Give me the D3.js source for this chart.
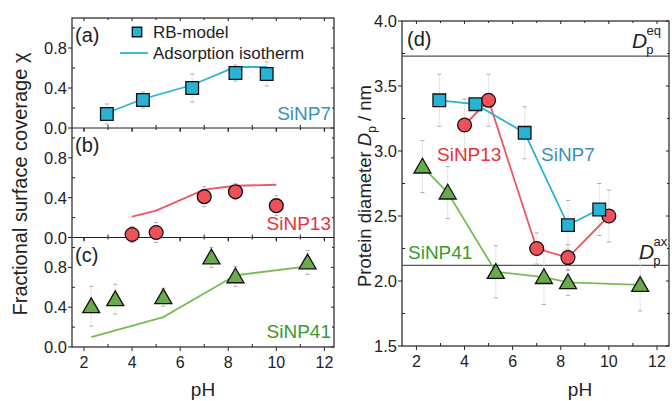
<!DOCTYPE html>
<html>
<head>
<meta charset="utf-8">
<script src="https://cdn.jsdelivr.net/npm/d3@7"></script>
<style>
  body { margin: 0; background: #fff; }
  text { font-family: "Liberation Sans", Arial, sans-serif; }
</style>
</head>
<body>
<svg id="plot" width="672" height="401"></svg>
<script>
// ---- data ----
var ph7 = [2.95, 4.45, 6.5, 8.3, 9.6];
var chi7 = [0.14, 0.28, 0.40, 0.55, 0.54];
var chi7Err = [0.1, 0.08, 0.14, 0.08, 0.12];
var iso7 = [0.15, 0.29, 0.43, 0.61, 0.61];

var ph13 = [4.0, 5.0, 7.0, 8.3, 10.0];
var chi13 = [0.03, 0.05, 0.41, 0.46, 0.32];
var chi13Err = [0.08, 0.1, 0.1, 0.08, 0.1];
var iso13 = [0.21, 0.27, 0.48, 0.52, 0.53];

var ph41 = [2.3, 3.3, 5.3, 7.3, 8.3, 11.3];
var chi41 = [0.41, 0.48, 0.50, 0.90, 0.71, 0.85];
var chi41Err = [0.2, 0.15, 0.09, 0.1, 0.1, 0.12];
var isoPh41 = [2.3, 5.3, 8.3, 11.3];
var iso41 = [0.10, 0.30, 0.72, 0.81];

var dp7 = [3.39, 3.36, 3.14, 2.43, 2.55];
var dp7Err = [0.2, 0.04, 0.2, 0.19, 0.2];
var dp13 = [3.20, 3.39, 2.25, 2.18, 2.50];
var dp13Err = [0.2, 0.2, 0.12, 0.1, 0.2];
var ph41d = [2.25, 3.3, 5.3, 7.3, 8.3, 11.3];
var dp41 = [2.88, 2.68, 2.07, 2.03, 1.99, 1.97];
var dp41Err = [0.2, 0.2, 0.2, 0.21, 0.1, 0.2];

var dpEq = 3.73, dpAx = 2.12;
var phTicks = [2, 4, 6, 8, 10, 12];

var c7 = "#27b2d6", c13 = "#f0505a", c41 = "#6aaa4a";
var line7 = "#2bb3d3", line13 = "#ef5662", line41 = "#79bb55";
var t7 = "#3a8fb8", t13 = "#e8323c", t41 = "#3a9a2a";

var svg = d3.select("#plot");

// ---- left: three stacked panels ----
var xL = d3.scaleLinear().domain([1.5, 12.4]).range([72, 334]);
var panels = [
  {top: 18, bot: 128, label: "(a)", name: "SiNP7", tcol: t7, nameY: 120},
  {top: 128, bot: 237.5, label: "(b)", name: "SiNP13", tcol: t13, nameY: 230},
  {top: 237.5, bot: 347, label: "(c)", name: "SiNP41", tcol: t41, nameY: 338}
];
panels.forEach(function(p) {
  p.y = d3.scaleLinear().domain([0, 1.1]).range([p.bot, p.top]);
});

function drawTicksY(y, x0, x1, major, minor) {
  major.forEach(function(v) {
    svg.append("line").attr("x1", x0 - 4).attr("x2", x0).attr("y1", y(v)).attr("y2", y(v)).attr("stroke", "#222");
    svg.append("line").attr("x1", x1 - 3).attr("x2", x1).attr("y1", y(v)).attr("y2", y(v)).attr("stroke", "#222");
  });
  minor.forEach(function(v) {
    svg.append("line").attr("x1", x0).attr("x2", x0 + 3).attr("y1", y(v)).attr("y2", y(v)).attr("stroke", "#222");
    svg.append("line").attr("x1", x1 - 2).attr("x2", x1).attr("y1", y(v)).attr("y2", y(v)).attr("stroke", "#222");
  });
}
function drawTicksX(x, yb, yt, labels, ticksTop) {
  phTicks.forEach(function(v) {
    svg.append("line").attr("x1", x(v)).attr("x2", x(v)).attr("y1", yb).attr("y2", yb + 4).attr("stroke", "#222");
    if (ticksTop) svg.append("line").attr("x1", x(v)).attr("x2", x(v)).attr("y1", yt).attr("y2", yt + 3).attr("stroke", "#222");
    if (labels) svg.append("text").attr("x", x(v)).attr("y", yb + 21).attr("text-anchor", "middle")
      .attr("font-size", 16).attr("fill", "#222").text(v);
  });
  [3, 5, 7, 9, 11].forEach(function(v) {
    svg.append("line").attr("x1", x(v)).attr("x2", x(v)).attr("y1", yb - 3).attr("y2", yb).attr("stroke", "#222");
    if (ticksTop) svg.append("line").attr("x1", x(v)).attr("x2", x(v)).attr("y1", yt).attr("y2", yt + 2).attr("stroke", "#222");
  });
}

panels.forEach(function(p, i) {
  drawTicksY(p.y, 72, 334, [0, 0.4, 0.8], [0.2, 0.6, 1.0]);
  [0, 0.4, 0.8].forEach(function(v) {
    svg.append("text").attr("x", 67).attr("y", p.y(v) + 6).attr("text-anchor", "end")
      .attr("font-size", 16.5).attr("fill", "#222").text(v.toFixed(1));
  });
  drawTicksX(xL, p.bot, p.top, i == 2, true);
  svg.append("text").attr("x", 75).attr("y", p.top + 24).attr("font-size", 20).attr("fill", "#222").text(p.label);
  svg.append("text").attr("x", 331).attr("y", p.nameY).attr("text-anchor", "end")
    .attr("font-size", 19).attr("fill", p.tcol).text(p.name);
});
svg.append("rect").attr("x", 72).attr("y", 18).attr("width", 262).attr("height", 329)
  .attr("fill", "none").attr("stroke", "#222").attr("stroke-width", 1.2);
svg.append("line").attr("x1", 72).attr("x2", 334).attr("y1", 128).attr("y2", 128).attr("stroke", "#222");
svg.append("line").attr("x1", 72).attr("x2", 334).attr("y1", 237.5).attr("y2", 237.5).attr("stroke", "#222");

function errBars(x, y, xs, ys, es) {
  xs.forEach(function(v, i) {
    var lo = y(ys[i] - es[i]), hi = y(ys[i] + es[i]);
    svg.append("line").attr("x1", x(v)).attr("x2", x(v)).attr("y1", lo).attr("y2", hi)
      .attr("stroke", "#dedede").attr("stroke-width", 0.8);
    [lo, hi].forEach(function(yy) {
      svg.append("line").attr("x1", x(v) - 2).attr("x2", x(v) + 2).attr("y1", yy).attr("y2", yy)
        .attr("stroke", "#aaa").attr("stroke-width", 1);
    });
  });
}
function polyline(x, y, xs, ys, col) {
  svg.append("path").datum(xs.map(function(v, i) { return [v, ys[i]]; }))
    .attr("d", d3.line().x(function(d) { return x(d[0]); }).y(function(d) { return y(d[1]); }))
    .attr("fill", "none").attr("stroke", col).attr("stroke-width", 1.8);
}
function markers(x, y, xs, ys, shape, col) {
  var sym = shape == "square" ? d3.symbolSquare : shape == "circle" ? d3.symbolCircle : d3.symbolTriangle;
  var size = shape == "square" ? 160 : shape == "circle" ? 150 : 125;
  svg.selectAll(null).data(xs).enter().append("path")
    .attr("d", d3.symbol().type(sym).size(size))
    .attr("transform", function(d, i) { return "translate(" + x(d) + "," + (y(ys[i]) + (shape == "tri" ? 1.5 : 0)) + ")"; })
    .attr("fill", col).attr("stroke", "#111").attr("stroke-width", 1.3);
}

var ya = panels[0].y, yb = panels[1].y, yc = panels[2].y;
errBars(xL, ya, ph7, chi7, chi7Err);
polyline(xL, ya, ph7, iso7, line7);
markers(xL, ya, ph7, chi7, "square", c7);
errBars(xL, yb, ph13, chi13, chi13Err);
polyline(xL, yb, ph13, iso13, line13);
markers(xL, yb, ph13, chi13, "circle", c13);
errBars(xL, yc, ph41, chi41, chi41Err);
polyline(xL, yc, isoPh41, iso41, line41);
markers(xL, yc, ph41, chi41, "tri", c41);

// legend
svg.append("path").attr("d", d3.symbol().type(d3.symbolSquare).size(90)).attr("transform", "translate(137,32)")
  .attr("fill", c7).attr("stroke", "#111").attr("stroke-width", 1.3);
svg.append("text").attr("x", 153).attr("y", 38).attr("font-size", 17).attr("fill", "#222").text("RB-model");
svg.append("line").attr("x1", 120).attr("x2", 148).attr("y1", 53).attr("y2", 53).attr("stroke", line7).attr("stroke-width", 1.8);
svg.append("text").attr("x", 153).attr("y", 59).attr("font-size", 17).attr("fill", "#222").text("Adsorption isotherm");

svg.append("text").attr("transform", "translate(27,184) rotate(-90)").attr("text-anchor", "middle")
  .attr("font-size", 20).attr("fill", "#222").text("Fractional surface coverage χ");
svg.append("text").attr("x", 203).attr("y", 396).attr("text-anchor", "middle")
  .attr("font-size", 19).attr("fill", "#222").text("pH");

// ---- right: panel (d) ----
var xR = d3.scaleLinear().domain([1.4, 12.5]).range([402, 669]);
var yR = d3.scaleLinear().domain([1.5, 4.0]).range([346, 21]);
drawTicksY(yR, 402, 669, [1.5, 2.0, 2.5, 3.0, 3.5, 4.0], [1.75, 2.25, 2.75, 3.25, 3.75]);
[1.5, 2.0, 2.5, 3.0, 3.5, 4.0].forEach(function(v) {
  svg.append("text").attr("x", 397).attr("y", yR(v) + 6).attr("text-anchor", "end")
    .attr("font-size", 16.5).attr("fill", "#222").text(v.toFixed(1));
});
drawTicksX(xR, 346, 21, true, true);
svg.append("rect").attr("x", 402).attr("y", 21).attr("width", 267).attr("height", 325)
  .attr("fill", "none").attr("stroke", "#222").attr("stroke-width", 1.2);
[dpEq, dpAx].forEach(function(v) {
  svg.append("line").attr("x1", 402).attr("x2", 669).attr("y1", yR(v)).attr("y2", yR(v))
    .attr("stroke", "#555").attr("stroke-width", 1.3);
});

errBars(xR, yR, ph7, dp7, dp7Err);
errBars(xR, yR, ph13, dp13, dp13Err);
errBars(xR, yR, ph41d, dp41, dp41Err);
polyline(xR, yR, ph41d, dp41, line41);
polyline(xR, yR, ph13, dp13, line13);
polyline(xR, yR, ph7, dp7, line7);
markers(xR, yR, ph41d, dp41, "tri", c41);
markers(xR, yR, ph13, dp13, "circle", c13);
markers(xR, yR, ph7, dp7, "square", c7);

svg.append("text").attr("x", 407).attr("y", 46).attr("font-size", 20).attr("fill", "#222").text("(d)");
svg.append("text").attr("x", 437).attr("y", 161).attr("font-size", 19).attr("fill", t13).text("SiNP13");
svg.append("text").attr("x", 541).attr("y", 161).attr("font-size", 19).attr("fill", t7).text("SiNP7");
svg.append("text").attr("x", 408).attr("y", 259).attr("font-size", 19).attr("fill", t41).text("SiNP41");

function dLabel(x, y, sup) {
  var t = svg.append("text").attr("x", x).attr("y", y).attr("font-size", 21).attr("fill", "#222");
  t.append("tspan").attr("font-style", "italic").text("D");
  t.append("tspan").attr("font-size", 13).attr("dx", -1).attr("dy", 6).text("p");
  t.append("tspan").attr("font-size", 13).attr("dx", -7).attr("dy", -19).text(sup);
}
dLabel(632, 48, "eq");
dLabel(639, 259, "ax");

var yt = svg.append("text").attr("transform", "translate(371,186) rotate(-90)").attr("text-anchor", "middle")
  .attr("font-size", 18.5).attr("fill", "#222");
yt.append("tspan").text("Protein diameter ");
yt.append("tspan").attr("font-style", "italic").text("D");
yt.append("tspan").attr("font-size", 12).attr("dy", 5).text("p");
yt.append("tspan").attr("dy", -5).text(" / nm");
svg.append("text").attr("x", 580).attr("y", 396).attr("text-anchor", "middle")
  .attr("font-size", 19).attr("fill", "#222").text("pH");
</script>
</body>
</html>
